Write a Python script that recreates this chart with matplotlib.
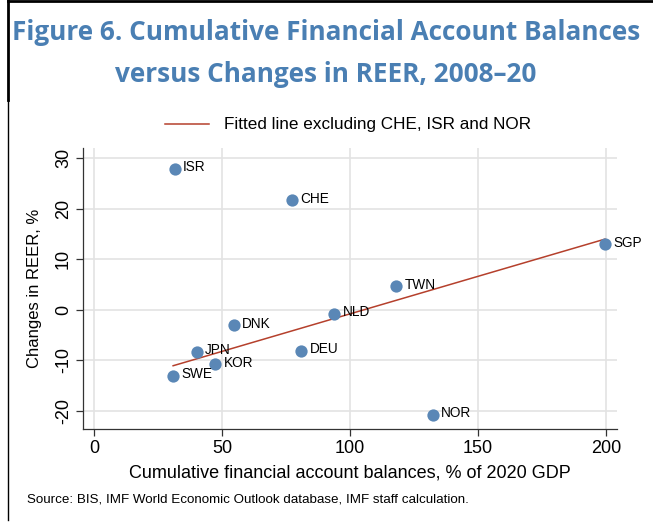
import numpy as np
import matplotlib.pyplot as plt
from matplotlib.lines import Line2D

# Data
countries = ['ISR', 'CHE', 'SGP', 'TWN', 'NLD', 'DNK', 'JPN', 'DEU', 'KOR', 'SWE', 'NOR']
fa_balance = [31.6, 77.3, 199.6, 118.0, 93.8, 54.7, 40.2, 80.9, 47.3, 30.9, 132.4]
reer_change = [27.9, 21.7, 13.0, 4.7, -0.8, -3.1, -8.3, -8.1, -10.8, -13.0, -20.7]
excluded = ['CHE', 'ISR', 'NOR']

plt.rcParams['font.family'] = ['Liberation Sans', 'DejaVu Sans']
plt.rcParams['axes.unicode_minus'] = False

fig = plt.figure(figsize=(6.53, 5.23), dpi=100)
ax = fig.add_axes([83/653, 1-429/523, (617-83)/653, (429-148)/523])

blue = '#5a87b6'
red = '#b5402c'

# fitted line on the subset
xs = np.array([x for x, c in zip(fa_balance, countries) if c not in excluded])
ys = np.array([y for y, c in zip(reer_change, countries) if c not in excluded])
b, a = np.polyfit(xs, ys, 1)
xl = np.array([xs.min(), xs.max()])
ax.plot(xl, a + b*xl, color=red, lw=1.1, zorder=3)

ax.scatter(fa_balance, reer_change, s=78, color=blue, zorder=4, linewidths=0)
for x, y, c in zip(fa_balance, reer_change, countries):
    ax.annotate(c, (x, y), xytext=(6, 1), textcoords='offset points',
                fontsize=9.8, va='center', ha='left', zorder=5)

ax.set_xlim(-4.3, 204.3)
ax.set_ylim(-23.56, 31.98)
ax.set_xticks([0, 50, 100, 150, 200])
ax.set_yticks([-20, -10, 0, 10, 20, 30])
ax.grid(True, color='#e3e3e3', lw=1.2)
ax.set_axisbelow(True)
for s in ['top', 'right']:
    ax.spines[s].set_visible(False)
for s in ['left', 'bottom']:
    ax.spines[s].set_color('#333333')
    ax.spines[s].set_linewidth(0.9)
ax.tick_params(length=5, width=0.9, color='#333333', labelsize=13, pad=3)
plt.setp(ax.get_yticklabels(), rotation=90, va='center')

ax.set_xlabel('Cumulative financial account balances, % of 2020 GDP', fontsize=13, labelpad=5)
ax.set_ylabel('Changes in REER, %', fontsize=12, labelpad=9)

handle = [Line2D([0], [0], color=red, lw=1.1)]
fig.legend(handle, ['Fitted line excluding CHE, ISR and NOR'], loc='center',
           bbox_to_anchor=(348/653, 1-125/523), frameon=False, fontsize=12.3,
           handlelength=2.6, handletextpad=0.9)

title_col = '#4a7fb3'
fig.text(326/653, 1-33/523, 'Figure 6. Cumulative Financial Account Balances',
         ha='center', va='center', fontsize=18.8, fontweight='bold', color=title_col,
         family=['Open Sans', 'DejaVu Sans'])
fig.text(326/653, 1-74/523, 'versus Changes in REER, 2008\u201320',
         ha='center', va='center', fontsize=18.8, fontweight='bold', color=title_col,
         family=['Open Sans', 'DejaVu Sans'])

fig.text(27/653, 1-500/523, 'Source: BIS, IMF World Economic Outlook database, IMF staff calculation.',
         ha='left', va='center', fontsize=9.6)

# outer frame lines
fig.add_artist(Line2D([8/653, 8/653], [1, 1-100/523], color='black', lw=2, transform=fig.transFigure))
fig.add_artist(Line2D([8/653, 8/653], [1-100/523, 1-520/523], color='black', lw=1, transform=fig.transFigure))
fig.add_artist(Line2D([8/653, 1], [1-1/523, 1-1/523], color='black', lw=2, transform=fig.transFigure))

fig.savefig('out.png', dpi=100)
